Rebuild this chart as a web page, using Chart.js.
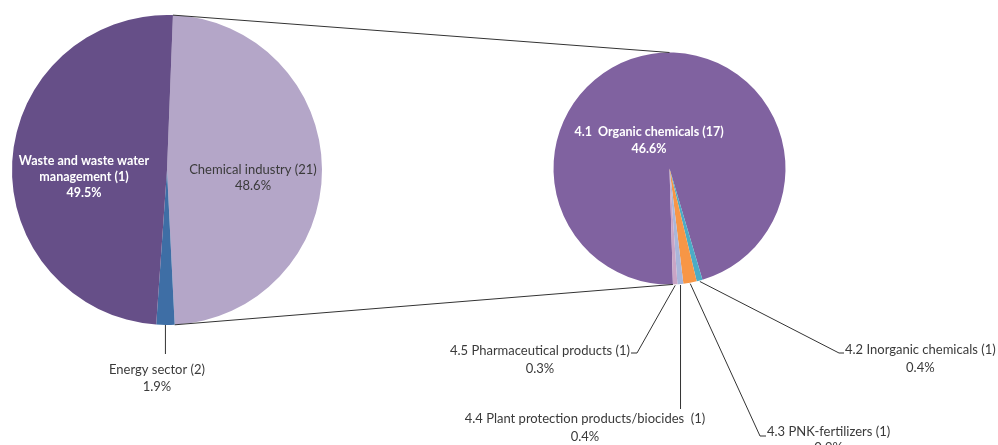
<!DOCTYPE html>
<html>
<head>
<meta charset="utf-8">
<script src="https://cdn.jsdelivr.net/npm/chart.js@4.4.1/dist/chart.umd.min.js"></script>
<style>
  html, body { margin: 0; padding: 0; background: #ffffff; }
  #wrap { position: relative; width: 998px; height: 445px; overflow: hidden; }
  #wrap canvas { position: absolute; left: 0; top: 0; }
</style>
</head>
<body>
<div id="wrap">
  <canvas id="mainPie" width="998" height="445"></canvas>
  <canvas id="subPie" width="998" height="445"></canvas>
</div>
<script>
// Installations by sector (count) and share of the total
const sectorNames = ['Chemical industry', 'Energy sector', 'Waste and waste water\nmanagement'];
const sectorCounts = [21, 2, 1];
const sectorShares = [48.6, 1.9, 49.5];
const sectorColors = ['#b4a6c8', '#3e6ea5', '#664f88'];

// Breakdown of the chemical industry
const chemNames = ['4.1  Organic chemicals', '4.2 Inorganic chemicals', '4.3 PNK-fertilizers',
                   '4.4 Plant protection products/biocides ', '4.5 Pharmaceutical products'];
const chemCounts = [17, 1, 1, 1, 1];
const chemShares = [46.6, 0.4, 0.9, 0.4, 0.3];
const chemColors = ['#8062a0', '#4bacc6', '#f79646', '#a9b6da', '#c9a5c6'];

const FONT = 'Lato, "Liberation Sans", sans-serif';
const TEXT_DARK = '#3a3a3a';
const LINE_DARK = '#333333';

function labelLines(name, count, share) {
  const parts = name.split('\n');
  parts[parts.length - 1] += ' (' + count + ')';
  parts.push(share.toFixed(1) + '%');
  return parts;
}

function fontOf(style) {
  return (style.bold ? 'bold ' : '') + (style.size || 13) + 'px ' + FONT;
}

function drawLines(ctx, lines, cx, y, style) {
  ctx.save();
  ctx.font = fontOf(style);
  ctx.fillStyle = style.color || TEXT_DARK;
  ctx.textAlign = 'center';
  ctx.textBaseline = 'middle';
  const lh = style.lineH || 16;
  lines.forEach((t, i) => ctx.fillText(t, cx, y + i * lh));
  ctx.restore();
}

function textWidth(ctx, text, style) {
  ctx.save();
  ctx.font = fontOf(style);
  const w = ctx.measureText(text).width;
  ctx.restore();
  return w;
}

function edgePoint(arc, angle) {
  return { x: arc.x + Math.cos(angle) * arc.outerRadius, y: arc.y + Math.sin(angle) * arc.outerRadius };
}
function midEdge(arc, extra) {
  const a = (arc.startAngle + arc.endAngle) / 2;
  const r = arc.outerRadius + (extra || 0);
  return { x: arc.x + Math.cos(a) * r, y: arc.y + Math.sin(a) * r };
}

function polyline(ctx, pts) {
  ctx.save();
  ctx.strokeStyle = LINE_DARK;
  ctx.lineWidth = 1;
  ctx.beginPath();
  ctx.moveTo(pts[0].x, pts[0].y);
  for (let i = 1; i < pts.length; i++) ctx.lineTo(pts[i].x, pts[i].y);
  ctx.stroke();
  ctx.restore();
}

// Labels of the sector pie
const sectorLabelPlugin = {
  id: 'sectorLabels',
  afterDraw(chart) {
    const ctx = chart.ctx;
    const arcs = chart.getDatasetMeta(0).data;
    const L = i => labelLines(sectorNames[i], sectorCounts[i], sectorShares[i]);

    drawLines(ctx, L(0), 253, 170, { size: 13, lineH: 16 });
    drawLines(ctx, L(2), 84, 161, { size: 12.5, bold: true, color: '#ffffff', lineH: 16 });

    const e = midEdge(arcs[1]);
    polyline(ctx, [e, { x: e.x, y: 354 }]);
    drawLines(ctx, L(1), 157, 370, { size: 13, lineH: 17 });
  }
};

const mainChart = new Chart(document.getElementById('mainPie'), {
  type: 'pie',
  data: {
    labels: sectorNames,
    datasets: [{ data: sectorShares, backgroundColor: sectorColors, borderWidth: 0 }]
  },
  options: {
    responsive: false,
    animation: false,
    rotation: 2.2,
    layout: { padding: { left: 12, top: 15, right: 676, bottom: 120 } },
    plugins: { legend: { display: false }, tooltip: { enabled: false } }
  },
  plugins: [sectorLabelPlugin]
});

// Labels of the chemical breakdown, plus the lines joining both pies
const chemLabelPlugin = {
  id: 'chemLabels',
  afterDraw(chart) {
    const ctx = chart.ctx;
    const arcs = chart.getDatasetMeta(0).data;
    const L = i => labelLines(chemNames[i], chemCounts[i], chemShares[i]);
    const small = { size: 13, lineH: 17.5 };

    // connectors from the chemical industry slice to the breakdown pie
    const chem = mainChart.getDatasetMeta(0).data[0];
    const a0 = arcs[0];
    polyline(ctx, [edgePoint(chem, chem.startAngle), { x: a0.x, y: a0.y - a0.outerRadius }]);
    polyline(ctx, [edgePoint(chem, chem.endAngle), edgePoint(a0, a0.startAngle)]);

    // 4.1 inside the slice
    drawLines(ctx, L(0), 649, 132, { size: 12.5, bold: true, color: '#ffffff', lineH: 17 });

    // 4.2 to the right
    let l = L(1), w = textWidth(ctx, l[0], small);
    polyline(ctx, [midEdge(arcs[1], 1), { x: 839, y: 353 }, { x: 844, y: 353 }]);
    drawLines(ctx, l, 845 + w / 2, 350, small);

    // 4.3 lower right, its percentage runs off the bottom edge
    l = L(2); w = textWidth(ctx, l[0], small);
    polyline(ctx, [midEdge(arcs[2], 1), { x: 760, y: 436 }, { x: 766, y: 436 }]);
    drawLines(ctx, l, 767 + w / 2, 432, { size: 13, lineH: 16 });

    // 4.4 straight below
    const e4 = midEdge(arcs[3], 1);
    polyline(ctx, [e4, { x: e4.x, y: 409 }]);
    drawLines(ctx, L(3), 585, 419, small);

    // 4.5 to the left
    l = L(4); w = textWidth(ctx, l[0], small);
    polyline(ctx, [midEdge(arcs[4], 1), { x: 637, y: 353 }, { x: 631, y: 353 }]);
    drawLines(ctx, l, 630 - w / 2, 351, small);
  }
};

new Chart(document.getElementById('subPie'), {
  type: 'pie',
  data: {
    labels: chemNames,
    datasets: [{ data: chemShares, backgroundColor: chemColors, borderWidth: 0 }]
  },
  options: {
    responsive: false,
    animation: false,
    rotation: 178.3,
    layout: { padding: { left: 553.5, top: 52.5, right: 212.5, bottom: 160.5 } },
    plugins: { legend: { display: false }, tooltip: { enabled: false } }
  },
  plugins: [chemLabelPlugin]
});
</script>
</body>
</html>
